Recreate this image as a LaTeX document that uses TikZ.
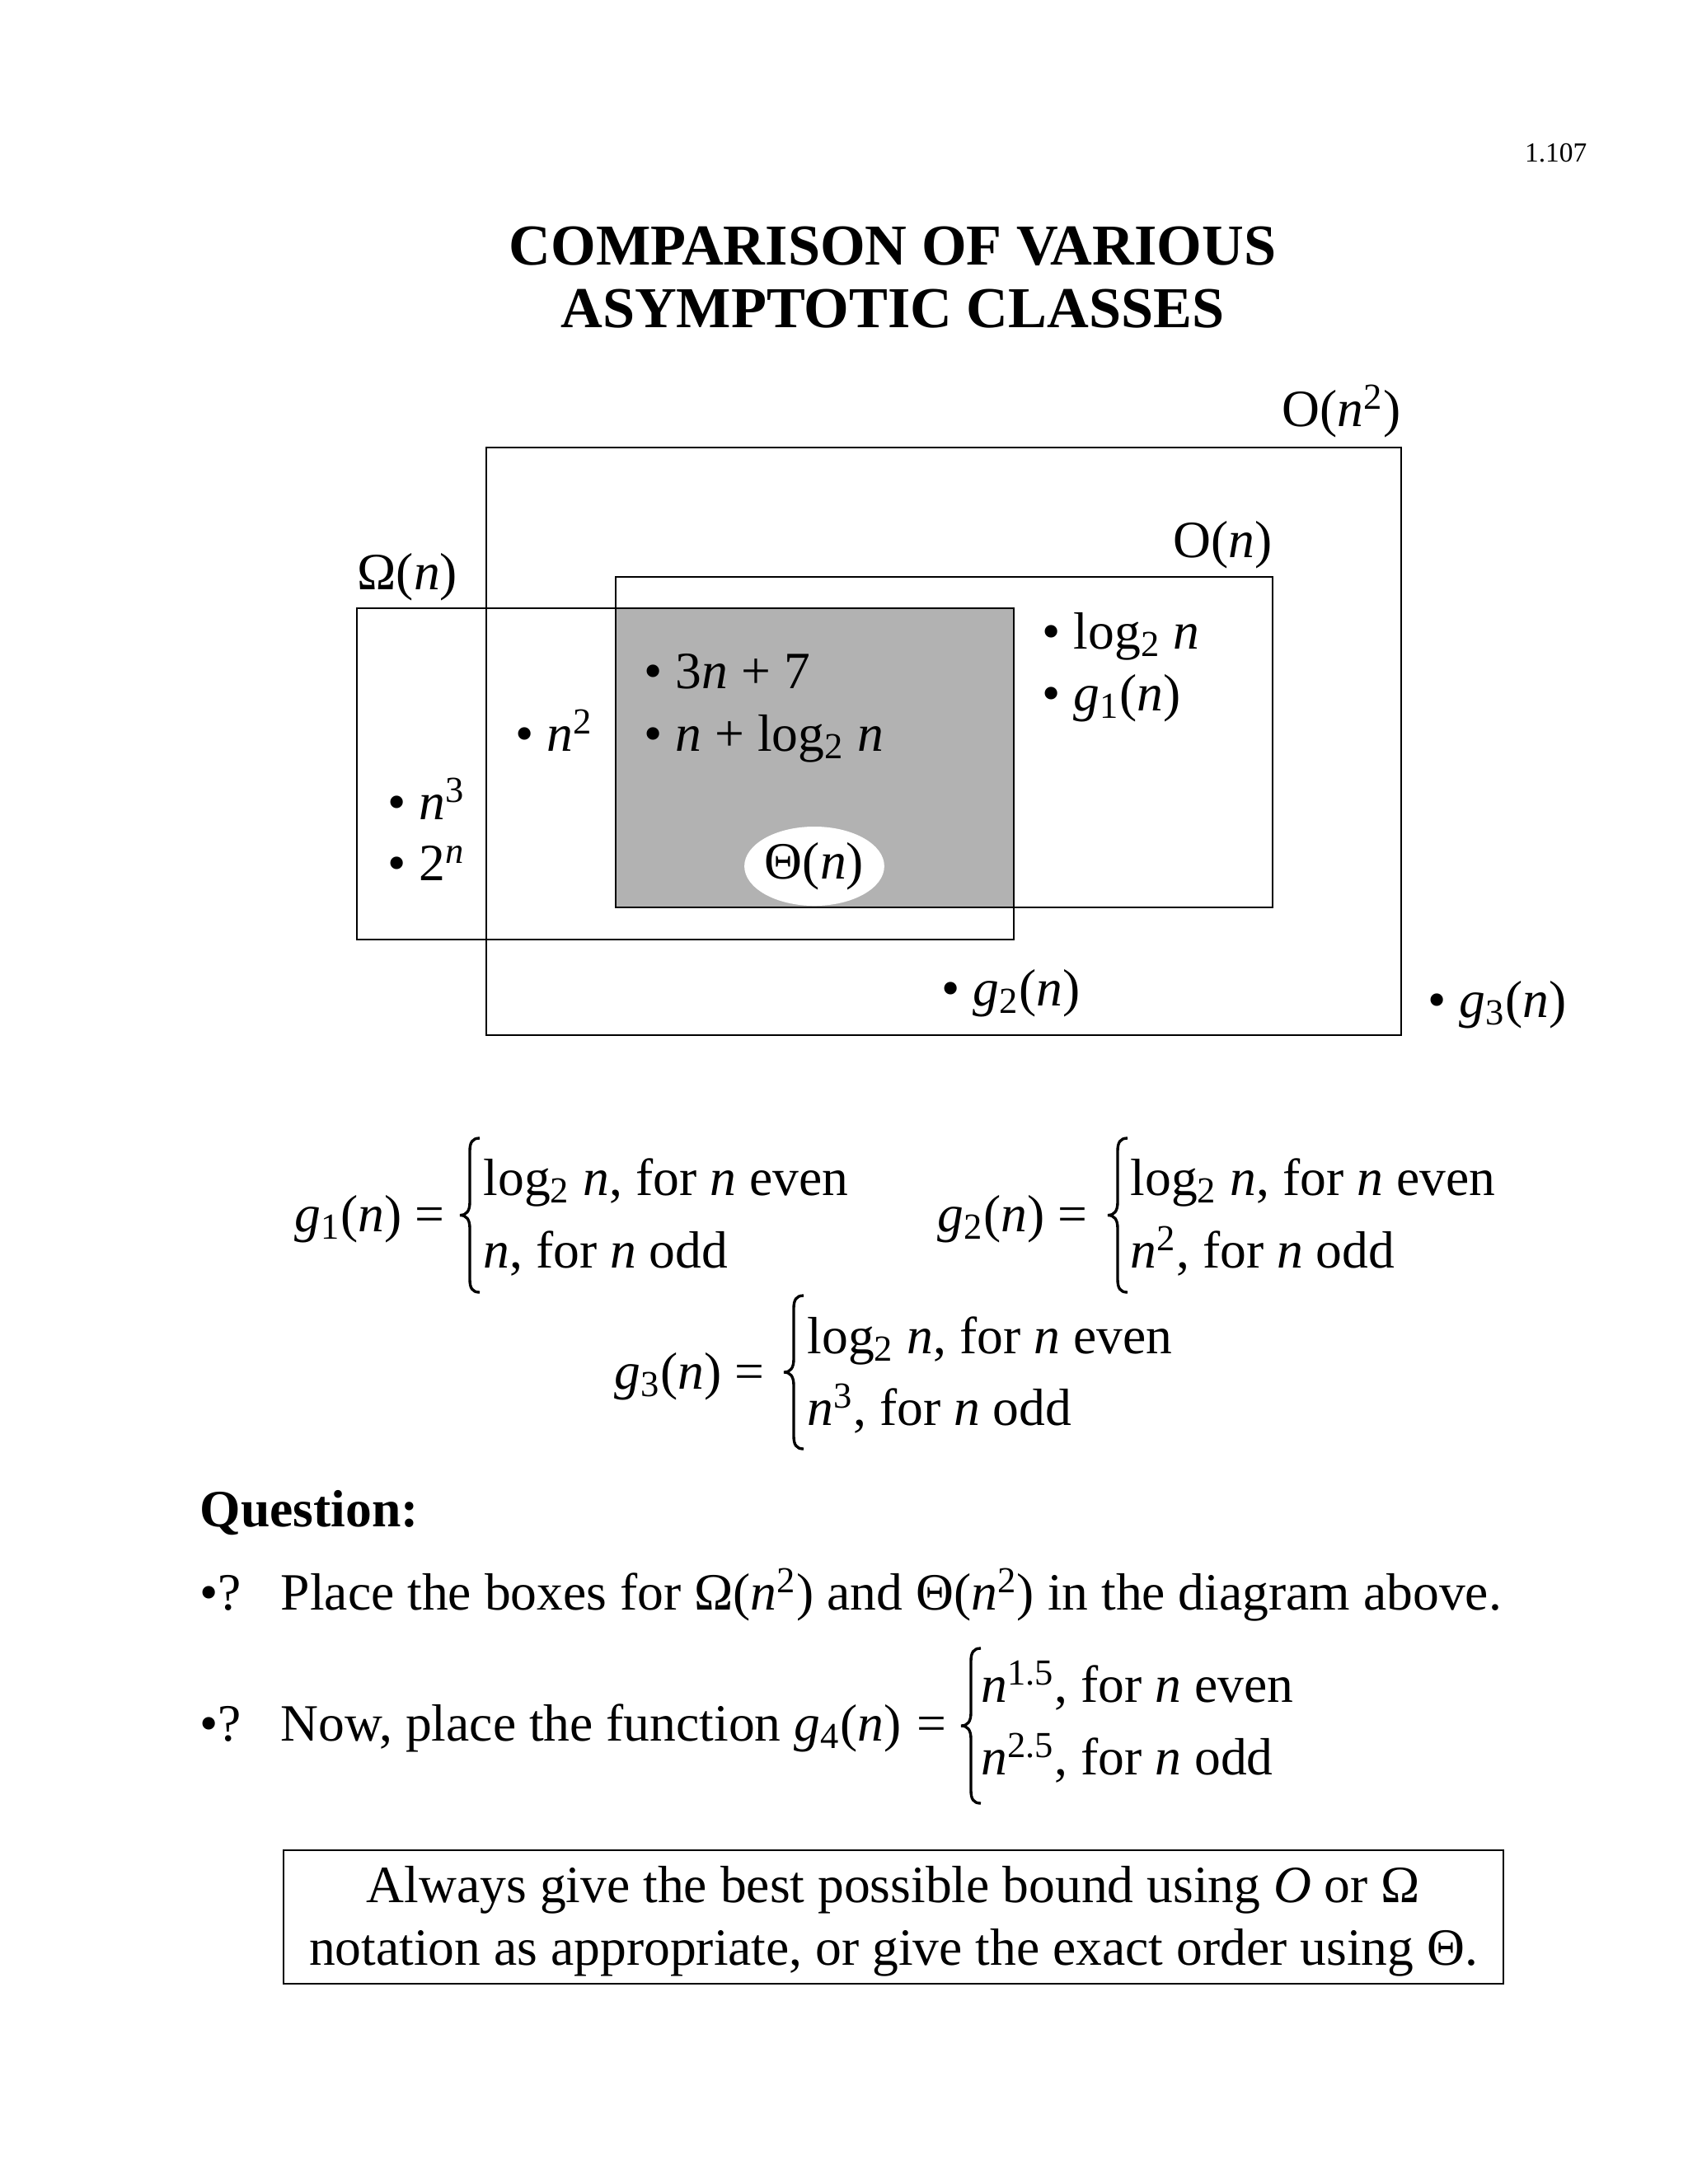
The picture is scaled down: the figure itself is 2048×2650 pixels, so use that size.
\documentclass[tikz,border=0pt]{standalone}
\usepackage{fontspec}
\setmainfont{Liberation Serif}
\usepackage{tikz}
\usetikzlibrary{shapes.geometric}

\newcommand\nvar{\textit{n}}
\newcommand\gfun[1]{\textit{g}\textsubscript{#1}(\nvar)}
\newcommand\logn{log\textsubscript{2} \nvar}

\tikzset{
  every node/.style={inner sep=0pt, font=\fontsize{19}{23}\selectfont},
  classbox/.style={draw, line width=0.8pt},
  item/.style={anchor=base west},
  casebrace/.style={line width=1pt},
  titletext/.style={anchor=base, font=\bfseries\fontsize{21}{25}\selectfont}
}

\begin{document}
\begin{tikzpicture}[x=0.298828pt,y=-0.298828pt]
\useasboundingbox (0,0) rectangle (2048,2650);

\node[anchor=base east, font=\fontsize{10}{12}\selectfont] (pageno) at (1926,196) {1.107};
\node[titletext] (title1) at (1083,321) {COMPARISON OF VARIOUS};
\node[titletext] (title2) at (1083,397) {ASYMPTOTIC CLASSES};

% the classes
\fill[black!30] (747,738) rectangle (1230,1101);
\draw[classbox] (590,543) rectangle (1700,1256);
\draw[classbox] (747,700) rectangle (1544,1101);
\draw[classbox] (433,738) rectangle (1230,1140);
\node[ellipse, fill=white, minimum width=50pt, minimum height=28.7pt] (theta) at (988,1051) {Θ(\nvar)};

\node[anchor=base east] (bigon2) at (1700,517) {O(\nvar\textsuperscript{2})};
\node[anchor=base east] (bigon) at (1544,676) {O(\nvar)};
\node[anchor=base west] (omegan) at (433,715) {Ω(\nvar)};

\node[item] (logn) at (1264,787) {\textbullet\ \logn};
\node[item] (g1) at (1264,862) {\textbullet\ \gfun{1}};
\node[item] (lin) at (781,835) {\textbullet\ 3\nvar{} + 7};
\node[item] (nlog) at (781,911) {\textbullet\ \nvar{} + \logn};
\node[item] (nsq) at (625,911) {\textbullet\ \nvar\textsuperscript{2}};
\node[item] (ncube) at (470,994) {\textbullet\ \nvar\textsuperscript{3}};
\node[item] (twon) at (470,1068) {\textbullet\ 2\textsuperscript{\nvar}};
\node[item] (g2) at (1142,1220) {\textbullet\ \gfun{2}};
\node[item] (g3) at (1732,1234) {\textbullet\ \gfun{3}};

% the definitions
\node[anchor=base east] (g1def) at (540,1494) {\gfun{1} =};
\node[item] (g1even) at (586,1450) {\logn, for \nvar{} even};
\node[item] (g1odd) at (586,1538) {\nvar, for \nvar{} odd};
\node[anchor=base east] (g2def) at (1320,1494) {\gfun{2} =};
\node[item] (g2even) at (1371,1450) {\logn, for \nvar{} even};
\node[item] (g2odd) at (1371,1538) {\nvar\textsuperscript{2}, for \nvar{} odd};
\node[anchor=base east] (g3def) at (928,1685) {\gfun{3} =};
\node[item] (g3even) at (979,1642) {\logn, for \nvar{} even};
\node[item] (g3odd) at (979,1729) {\nvar\textsuperscript{3}, for \nvar{} odd};

\foreach \x/\t/\b in {570/1381/1568, 1356/1381/1568, 963/1572/1758, 1178/2000/2188}
  \draw[casebrace] (\x+12,\t) .. controls (\x+3,\t) and (\x,\t+5) .. (\x,\t+16)
    -- (\x,{(\t+\b)/2-16}) .. controls (\x,{(\t+\b)/2-5}) and (\x-4,{(\t+\b)/2}) .. (\x-12,{(\t+\b)/2})
    .. controls (\x-4,{(\t+\b)/2}) and (\x,{(\t+\b)/2+5}) .. (\x,{(\t+\b)/2+16})
    -- (\x,\b-16) .. controls (\x,\b-5) and (\x+3,\b) .. (\x+12,\b);

% the question
\node[item, font=\bfseries\fontsize{19}{23}\selectfont] (quest) at (242,1852) {Question:};
\node[item] (q1) at (242,1953) {\textbullet?\hspace{0.75em}Place the boxes for Ω(\nvar\textsuperscript{2}) and Θ(\nvar\textsuperscript{2}) in the diagram above.};
\node[item] (q2) at (242,2112) {\textbullet?\hspace{0.75em}Now, place the function \gfun{4}\hspace{0.3em}=};
\node[item] (g4even) at (1190,2065) {\nvar\textsuperscript{1.5}, for \nvar{} even};
\node[item] (g4odd) at (1190,2153) {\nvar\textsuperscript{2.5}, for \nvar{} odd};

\draw[classbox] (344,2245) rectangle (1824,2407);
\node[anchor=base] (rule1) at (1084,2308) {Always give the best possible bound using \textit{O} or Ω};
\node[anchor=base] (rule2) at (1084,2384) {notation as appropriate, or give the exact order using Θ.};
\end{tikzpicture}
\end{document}
